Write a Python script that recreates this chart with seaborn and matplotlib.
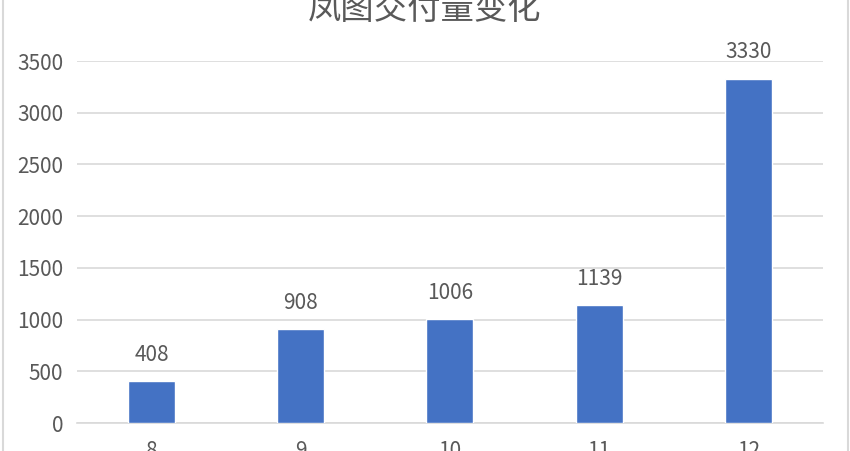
import matplotlib
matplotlib.use("Agg")
import matplotlib.pyplot as plt
import seaborn as sns
import pandas as pd

months = ["8", "9", "10", "11", "12"]
deliveries = [408, 908, 1006, 1139, 3330]
yticks = [0, 500, 1000, 1500, 2000, 2500, 3000, 3500]
title = "凤图交付量变化"

sns.set_theme(style="white")
plt.rcParams['font.family'] = ['Noto Sans CJK SC', 'DejaVu Sans']

df = pd.DataFrame({"month": months, "value": deliveries})

fig = plt.figure(figsize=(8.5, 4.51), dpi=100)
ax = fig.add_axes([0.0906, 0.062, 0.8774, 0.8027])
sns.barplot(data=df, x="month", y="value", color="#4472C4", width=0.315,
            saturation=1, ax=ax, zorder=3)
ax.set_ylim(0, 3500)
ax.set_xlim(-0.5, 4.5)
ax.set_yticks(yticks)
ax.set_yticklabels([str(t) for t in yticks])
ax.grid(axis="y", color="#D9D9D9", linewidth=1.2, zorder=0)
for s in ["top", "right", "left"]:
    ax.spines[s].set_visible(False)
ax.spines["bottom"].set_color("#D9D9D9")
ax.spines["bottom"].set_linewidth(1.2)
ax.tick_params(axis="both", length=0, labelsize=15, colors="#595959")
ax.tick_params(axis="x", pad=12)
ax.tick_params(axis="y", pad=10)
ax.set_xlabel("")
ax.set_ylabel("")
for i, v in enumerate(deliveries):
    ax.annotate(str(v), (i, v), xytext=(0, 11), textcoords="offset points",
                ha="center", va="bottom", fontsize=15, color="#595959")

fig.text(0.5, 1 - 10 / 451, title, ha="center", va="center", fontsize=24,
         color="#595959")

# outer chart border
fig.add_artist(plt.Line2D([2.5 / 850, 2.5 / 850], [0, 1], color="#D9D9D9",
                          linewidth=1.5, transform=fig.transFigure))
fig.add_artist(plt.Line2D([847.5 / 850, 847.5 / 850], [0, 1], color="#D9D9D9",
                          linewidth=1.5, transform=fig.transFigure))

fig.savefig("out.png", dpi=100)
